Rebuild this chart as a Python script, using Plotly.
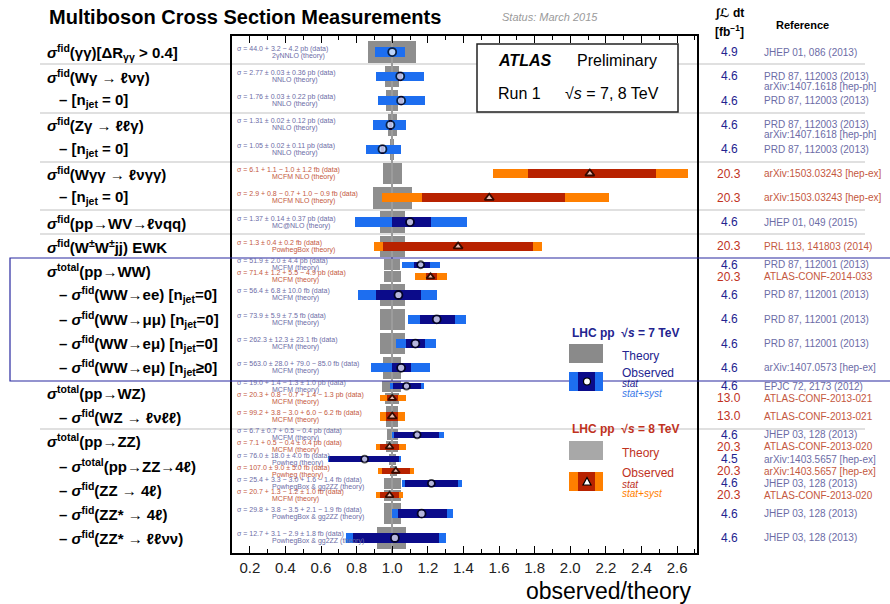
import plotly.graph_objects as go

# ---------------- row labels (left column) ----------------
ROW_LABELS = [
    "<i>σ</i><sup>fid</sup>(γγ)[ΔR<sub>γγ</sub> > 0.4]",
    "<i>σ</i><sup>fid</sup>(Wγ → ℓνγ)",
    "– [n<sub>jet</sub> = 0]",
    "<i>σ</i><sup>fid</sup>(Zγ → ℓℓγ)",
    "– [n<sub>jet</sub> = 0]",
    "<i>σ</i><sup>fid</sup>(Wγγ → ℓνγγ)",
    "– [n<sub>jet</sub> = 0]",
    "<i>σ</i><sup>fid</sup>(pp→WV→ℓνqq)",
    "<i>σ</i><sup>fid</sup>(W<sup>±</sup>W<sup>±</sup>jj) EWK",
    "<i>σ</i><sup>total</sup>(pp→WW)",
    "– <i>σ</i><sup>fid</sup>(WW→ee) [n<sub>jet</sub>=0]",
    "– <i>σ</i><sup>fid</sup>(WW→μμ) [n<sub>jet</sub>=0]",
    "– <i>σ</i><sup>fid</sup>(WW→eμ) [n<sub>jet</sub>=0]",
    "– <i>σ</i><sup>fid</sup>(WW→eμ) [n<sub>jet</sub>≥0]",
    "<i>σ</i><sup>total</sup>(pp→WZ)",
    "– <i>σ</i><sup>fid</sup>(WZ → ℓνℓℓ)",
    "<i>σ</i><sup>total</sup>(pp→ZZ)",
    "– <i>σ</i><sup>total</sup>(pp→ZZ→4ℓ)",
    "– <i>σ</i><sup>fid</sup>(ZZ → 4ℓ)",
    "– <i>σ</i><sup>fid</sup>(ZZ* → 4ℓ)",
    "– <i>σ</i><sup>fid</sup>(ZZ* → ℓℓνν)",
]
ROW_IS_SUB = [0, 0, 1, 0, 1, 0, 1, 0, 0, 0, 1, 1, 1, 1, 0, 1, 0, 1, 1, 1, 1]

# ---------------- measurements ----------------
SQRT_S = [7, 7, 7, 7, 7, 8, 8, 7, 8, 7, 8, 7, 7, 7, 7, 7, 8, 8, 7, 8, 7, 8, 7, 8, 7, 7]
RATIO = [1.00, 1.045, 1.05, 0.99, 0.945, 2.11, 1.545, 1.10, 1.37, 1.16, 1.215, 1.035, 1.25,
         1.13, 1.05, 1.08, 1.00, 1.00, 1.14, 0.985, 0.845, 1.02, 1.22, 0.985, 1.165, 1.015]
STAT_LO = [None, 1.034, 1.04, 0.983, 0.935, 1.76, 1.17, 1.00, 0.95, 1.12, 1.19, 0.91, 1.157,
           1.08, 1.00, 1.005, 0.97, 0.965, 1.01, 0.93, 0.645, 0.94, 1.07, 0.93, 1.03, 0.78]
STAT_HI = [None, 1.056, 1.06, 0.997, 0.955, 2.48, 1.97, 1.22, 1.79, 1.21, 1.25, 1.16, 1.354,
           1.185, 1.105, 1.16, 1.03, 1.035, 1.26, 1.04, 1.04, 1.10, 1.37, 1.04, 1.31, 1.265]
TOT_LO = [0.905, 0.91, 0.92, 0.89, 0.85, 1.567, 0.94, 0.79, 0.90, 1.056, 1.13, 0.81, 1.09,
          1.02, 0.88, 0.985, 0.93, 0.93, 1.00, 0.91, 0.64, 0.92, 1.055, 0.91, 1.00, 0.74]
TOT_HI = [1.073, 1.18, 1.185, 1.08, 1.05, 2.66, 2.22, 1.42, 1.84, 1.27, 1.31, 1.25, 1.415,
          1.245, 1.21, 1.18, 1.08, 1.07, 1.29, 1.075, 1.05, 1.12, 1.39, 1.06, 1.34, 1.30]
THEO_LO = [0.865, 0.96, 0.966, 0.975, 0.988, 0.95, 0.89, 0.93, 0.93, 0.955, 0.955, 0.93, 0.93,
           0.93, 0.95, 0.945, 0.96, 0.965, 0.97, 0.965, 0.98, 0.985, 0.955, 0.955, 0.955, 0.915]
THEO_HI = [1.135, 1.04, 1.034, 1.025, 1.012, 1.055, 1.11, 1.07, 1.07, 1.045, 1.05, 1.07, 1.07,
           1.07, 1.05, 1.05, 1.04, 1.035, 1.03, 1.035, 1.02, 1.025, 1.05, 1.05, 1.05, 1.08]
XS_DATA = [
    "σ = 44.0 + 3.2 − 4.2 pb (data)",
    "σ = 2.77 ± 0.03 ± 0.36 pb (data)",
    "σ = 1.76 ± 0.03 ± 0.22 pb (data)",
    "σ = 1.31 ± 0.02 ± 0.12 pb (data)",
    "σ = 1.05 ± 0.02 ± 0.11 pb (data)",
    "σ = 6.1 + 1.1 − 1.0 ± 1.2 fb (data)",
    "σ = 2.9 + 0.8 − 0.7 + 1.0 − 0.9 fb (data)",
    "σ = 1.37 ± 0.14 ± 0.37 pb (data)",
    "σ = 1.3 ± 0.4 ± 0.2 fb (data)",
    "σ = 51.9 ± 2.0 ± 4.4 pb (data)",
    "σ = 71.4 ± 1.2 + 5.5 − 4.9 pb (data)",
    "σ = 56.4 ± 6.8 ± 10.0 fb (data)",
    "σ = 73.9 ± 5.9 ± 7.5 fb (data)",
    "σ = 262.3 ± 12.3 ± 23.1 fb (data)",
    "σ = 563.0 ± 28.0 + 79.0 − 85.0 fb (data)",
    "σ = 19.0 + 1.4 − 1.3 ± 1.0 pb (data)",
    "σ = 20.3 + 0.8 − 0.7 + 1.4 − 1.3 pb (data)",
    "σ = 99.2 + 3.8 − 3.0 + 6.0 − 6.2 fb (data)",
    "σ = 6.7 ± 0.7 + 0.5 − 0.4 pb (data)",
    "σ = 7.1 + 0.5 − 0.4 ± 0.4 pb (data)",
    "σ = 76.0 ± 18.0 ± 4.0 fb (data)",
    "σ = 107.0 ± 9.0 ± 5.0 fb (data)",
    "σ = 25.4 + 3.3 − 3.0 + 1.6 − 1.4 fb (data)",
    "σ = 20.7 + 1.3 − 1.2 ± 1.0 fb (data)",
    "σ = 29.8 + 3.8 − 3.5 + 2.1 − 1.9 fb (data)",
    "σ = 12.7 + 3.1 − 2.9 ± 1.8 fb (data)",
]
XS_THEORY = [
    "2γNNLO (theory)", "NNLO (theory)", "NNLO (theory)", "NNLO (theory)", "NNLO (theory)",
    "MCFM NLO (theory)", "MCFM NLO (theory)", "MC@NLO (theory)", "PowhegBox (theory)",
    "MCFM (theory)", "MCFM (theory)", "MCFM (theory)", "MCFM (theory)", "MCFM (theory)",
    "MCFM (theory)", "MCFM (theory)", "MCFM (theory)", "MCFM (theory)", "MCFM (theory)",
    "MCFM (theory)", "Powheg (theory)", "Powheg (theory)", "PowhegBox & gg2ZZ (theory)",
    "MCFM (theory)", "PowhegBox & gg2ZZ (theory)", "PowhegBox & gg2ZZ (theory)",
]
LUMI = ["4.9", "4.6", "4.6", "4.6", "4.6", "20.3", "20.3", "4.6", "20.3", "4.6", "20.3", "4.6",
        "4.6", "4.6", "4.6", "4.6", "13.0", "13.0", "4.6", "20.3", "4.5", "20.3", "4.6", "20.3",
        "4.6", "4.6"]
REFERENCE = [
    ["JHEP 01, 086 (2013)"],
    ["PRD 87, 112003 (2013)", "arXiv:1407.1618 [hep-ph]"],
    ["PRD 87, 112003 (2013)"],
    ["PRD 87, 112003 (2013)", "arXiv:1407.1618 [hep-ph]"],
    ["PRD 87, 112003 (2013)"],
    ["arXiv:1503.03243 [hep-ex]"],
    ["arXiv:1503.03243 [hep-ex]"],
    ["JHEP 01, 049 (2015)"],
    ["PRL 113, 141803 (2014)"],
    ["PRD 87, 112001 (2013)"],
    ["ATLAS-CONF-2014-033"],
    ["PRD 87, 112001 (2013)"],
    ["PRD 87, 112001 (2013)"],
    ["PRD 87, 112001 (2013)"],
    ["arXiv:1407.0573 [hep-ex]"],
    ["EPJC 72, 2173 (2012)"],
    ["ATLAS-CONF-2013-021"],
    ["ATLAS-CONF-2013-021"],
    ["JHEP 03, 128 (2013)"],
    ["ATLAS-CONF-2013-020"],
    ["arXiv:1403.5657 [hep-ex]"],
    ["arXiv:1403.5657 [hep-ex]"],
    ["JHEP 03, 128 (2013)"],
    ["ATLAS-CONF-2013-020"],
    ["JHEP 03, 128 (2013)"],
    ["JHEP 03, 128 (2013)"],
]

# placement of each measurement: row index and slot (-1 upper, 0 full row, +1 lower)
MEAS_ROW = [0, 1, 2, 3, 4, 5, 6, 7, 8, 9, 9, 10, 11, 12, 13, 14, 14, 15, 16, 16, 17, 17, 18, 18, 19, 20]
MEAS_SLOT = [0, 0, 0, 0, 0, 0, 0, 0, 0, -1, 1, 0, 0, 0, 0, -1, 1, 0, -1, 1, -1, 1, -1, 1, 0, 0]

X_TICKS = [0.2, 0.4, 0.6, 0.8, 1.0, 1.2, 1.4, 1.6, 1.8, 2.0, 2.2, 2.4, 2.6]

# ---------------- styling ----------------
FONT = "Liberation Sans, Arial, DejaVu Sans, sans-serif"
C_THEORY = "#8e8e8e"
C_TOT7, C_STAT7 = "#1d6ef0", "#0b0b8a"
C_TOT8, C_STAT8 = "#ff8000", "#b82200"
C_TXT7, C_TXT8 = "#6c6ca6", "#c4583e"
C_LUMI7, C_LUMI8 = "#23238f", "#c0321e"

W, H = 890, 604
L, R, T, B = 232, 697, 36, 553
SUB = 0.245


def px(x):
    return (x - L) / (R - L)


def py(y):
    return (B - y) / (B - T)


def pos(i):
    return MEAS_ROW[i] + MEAS_SLOT[i] * SUB


N = len(RATIO)
ypos = [pos(i) for i in range(N)]
full = [MEAS_SLOT[i] == 0 for i in range(N)]

fig = go.Figure()

# theory boxes
fig.add_trace(go.Bar(
    orientation="h", y=ypos, base=THEO_LO,
    x=[THEO_HI[i] - THEO_LO[i] for i in range(N)],
    width=[0.88 if full[i] else 0.45 for i in range(N)],
    marker=dict(color=C_THEORY, line=dict(width=0)), hoverinfo="skip"))

# reference line at observed/theory = 1
fig.add_trace(go.Bar(
    orientation="v", x=[1.0], base=[-0.66], y=[21.28], width=[0.006],
    marker=dict(color="#9c9c9c", line=dict(width=0)), hoverinfo="skip"))

for energy, c_tot, c_stat in ((7, C_TOT7, C_STAT7), (8, C_TOT8, C_STAT8)):
    idx = [i for i in range(N) if SQRT_S[i] == energy]
    fig.add_trace(go.Bar(
        orientation="h", y=[ypos[i] for i in idx], base=[TOT_LO[i] for i in idx],
        x=[TOT_HI[i] - TOT_LO[i] for i in idx],
        width=[0.38 if full[i] else 0.26 for i in idx],
        marker=dict(color=c_tot, line=dict(width=0)), hoverinfo="skip"))
    sidx = [i for i in idx if STAT_LO[i] is not None]
    fig.add_trace(go.Bar(
        orientation="h", y=[ypos[i] for i in sidx], base=[STAT_LO[i] for i in sidx],
        x=[STAT_HI[i] - STAT_LO[i] for i in sidx],
        width=[0.38 if full[i] else 0.26 for i in sidx],
        marker=dict(color=c_stat, line=dict(width=0)), hoverinfo="skip"))

for energy, sym in ((7, "circle"), (8, "triangle-up")):
    idx = [i for i in range(N) if SQRT_S[i] == energy]
    fig.add_trace(go.Scatter(
        x=[RATIO[i] for i in idx], y=[ypos[i] for i in idx], mode="markers",
        marker=dict(symbol=sym, color="white",
                    size=[8 if full[i] else 7 for i in idx],
                    line=dict(color="black", width=1.8)),
        hoverinfo="skip"))

ann = []
shapes = []


def text(x, y, s, size, color="black", xanchor="left", yref="paper", yshift=0, **kw):
    ann.append(dict(x=x, y=y, xref="paper", yref=yref, text=s, showarrow=False,
                    xanchor=xanchor, yanchor="middle", yshift=yshift,
                    font=dict(size=size, color=color, family=kw.pop("family", FONT)), **kw))


# title and status
text(px(47), py(17), "<b>Multiboson Cross Section Measurements</b>", 20)
text(px(500), py(17), "<i>Status: March 2015</i>", 11, color="#9a9a9a")
text(px(729), py(13), "<b>∫ℒ dt</b>", 12, xanchor="center")
text(px(729), py(31), "<b>[fb<sup>−1</sup>]</b>", 12, xanchor="center")
text(px(802), py(25), "<b>Reference</b>", 11, xanchor="center")

# row labels
for r, lab in enumerate(ROW_LABELS):
    text(px(57 if ROW_IS_SUB[r] else 45), r, "<b>" + lab + "</b>", 15, yref="y")

# per-measurement annotations
for i in range(N):
    c_txt = C_TXT7 if SQRT_S[i] == 7 else C_TXT8
    c_lum = C_LUMI7 if SQRT_S[i] == 7 else C_LUMI8
    text(px(235), ypos[i], XS_DATA[i], 7, color=c_txt, yref="y", yshift=3.5)
    text(px(270), ypos[i], XS_THEORY[i], 7, color=c_txt, yref="y", yshift=-3.5)
    text(px(729), ypos[i], LUMI[i], 12, color=c_lum, yref="y", xanchor="center")
    for k, line in enumerate(REFERENCE[i]):
        text(px(762), ypos[i], line, 10, color=c_txt, yref="y", yshift=-10 * k)

# separators between groups
for ys in (64, 113, 162, 210, 234, 429):
    shapes.append(dict(type="line", xref="paper", yref="paper", x0=px(40), x1=px(865),
                       y0=py(ys), y1=py(ys), line=dict(color="#d6d6d6", width=1.5), layer="below"))
# WW group frame
shapes.append(dict(type="rect", xref="paper", yref="paper", x0=px(10), x1=px(900),
                   y0=py(381), y1=py(258), line=dict(color="#2828a0", width=1.2)))

# ATLAS box
shapes.append(dict(type="rect", xref="paper", yref="paper", x0=px(477), x1=px(678),
                   y0=py(112), y1=py(44), line=dict(color="#222", width=1.5),
                   fillcolor="white"))
text(px(496), py(61), "<b><i>ATLAS</i></b>", 16)
text(px(575), py(61), "Preliminary", 16)
text(px(496), py(94), "Run 1", 16)
text(px(563), py(94), "√<i>s</i> = 7, 8 TeV", 16)

# legend
for (yh, yth, yob, col_hd, col_th, c_tot, c_stat, c_syst, sym, lab) in (
        (333, 344, 372, C_LUMI7, "#8a8a8a", C_TOT7, C_STAT7, "#3a7ae8", "circle", "7"),
        (429, 441, 472, C_LUMI8, "#a8a8a8", C_TOT8, C_STAT8, C_TOT8, "triangle", "8")):
    text(px(570), py(yh), "<b>LHC pp  √<i>s</i> = %s TeV</b>" % lab, 12, color=col_hd)
    shapes.append(dict(type="rect", xref="paper", yref="paper", x0=px(569), x1=px(603),
                       y0=py(yth + 19), y1=py(yth), fillcolor=col_th, line=dict(width=0)))
    text(px(620), py(yth + 12), "Theory", 12, color=col_hd)
    shapes.append(dict(type="rect", xref="paper", yref="paper", x0=px(569), x1=px(603),
                       y0=py(yob + 19), y1=py(yob), fillcolor=c_tot, line=dict(width=0)))
    shapes.append(dict(type="rect", xref="paper", yref="paper", x0=px(578), x1=px(595),
                       y0=py(yob + 19), y1=py(yob), fillcolor=c_stat, line=dict(width=0)))
    cy = yob + 9.5
    if sym == "circle":
        shapes.append(dict(type="circle", xref="paper", yref="paper", x0=px(583.5), x1=px(590.5),
                           y0=py(cy + 3.5), y1=py(cy - 3.5), fillcolor="white",
                           line=dict(color="black", width=1.2)))
    else:
        shapes.append(dict(type="path", xref="paper", yref="paper",
                           path="M %f %f L %f %f L %f %f Z" % (px(583), py(cy + 3.5), px(591), py(cy + 3.5), px(587), py(cy - 4)),
                           fillcolor="white", line=dict(color="black", width=1.2)))
    text(px(620), py(yob + 1), "Observed", 12, color=col_hd)
    text(px(620), py(yob + 12), "<i>stat</i>", 10, color=col_hd)
    text(px(620), py(yob + 21), "<i>stat+syst</i>", 10, color=c_syst)

# axis title
text(px(693), py(591), "observed/theory", 23, xanchor="right")

fig.update_layout(
    width=W, height=H, margin=dict(l=L, r=W - R, t=T, b=H - B),
    paper_bgcolor="white", plot_bgcolor="rgba(0,0,0,0)",
    barmode="overlay", showlegend=False, bargap=0,
    annotations=ann, shapes=shapes,
    xaxis=dict(range=[0.1, 2.712], tickvals=X_TICKS, ticktext=["%.1f" % v for v in X_TICKS],
               ticks="inside", ticklen=7, tickwidth=1.2, tickcolor="black",
               minor=dict(dtick=0.1, tick0=0.1, ticks="inside", ticklen=4, tickcolor="black"),
               showline=True, linecolor="black", linewidth=1.5, mirror="allticks",
               showgrid=False, zeroline=False,
               tickfont=dict(size=15, color="#222", family=FONT)),
    yaxis=dict(range=[20.62, -0.66], showticklabels=False, ticks="", showgrid=False,
               zeroline=False, showline=True, linecolor="black", linewidth=1.5, mirror=True),
)

fig.write_html("out.html")
